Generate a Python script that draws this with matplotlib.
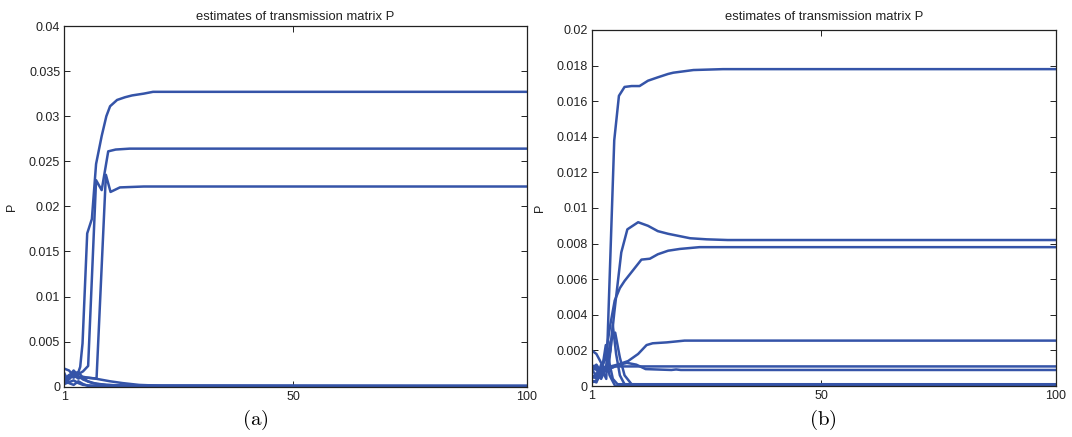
import numpy as np
import matplotlib.pyplot as plt

plt.rcParams['font.family'] = ['Liberation Sans', 'DejaVu Sans']
plt.rcParams['mathtext.fontset'] = 'cm'

BLUE = '#3554a8'
TITLE = 'estimates of transmission matrix P'

# ---- panel (a): values (iteration, P) ----
a1_x = [1, 2, 3, 4, 4.4, 4.9, 5.9, 6.9, 7.8, 9, 10, 10.8, 12.3, 14, 15.5, 18, 20, 100]
a1_y = [0.0009, 0.0011, 0.0015, 0.0016, 0.0022, 0.0048, 0.0170, 0.0186, 0.0247, 0.0278, 0.0300,
        0.0311, 0.0318, 0.0321, 0.0323, 0.0325, 0.0327, 0.0327]
a2_x = [1, 2, 3, 4, 5, 6.1, 7.8, 9.0, 10.4, 12, 15, 100]
a2_y = [0.0008, 0.0013, 0.0010, 0.0014, 0.0017, 0.0023, 0.0229, 0.0218, 0.0261, 0.0263, 0.0264, 0.0264]
a3_x = [1, 2, 3, 4, 5, 6, 7.9, 9.9, 10.9, 12.9, 18, 100]
a3_y = [0.0004, 0.0009, 0.0013, 0.0009, 0.0011, 0.0010, 0.0009, 0.0235, 0.0216, 0.0221, 0.0222, 0.0222]
a4_x = [1, 2, 3, 4, 5, 6, 8, 10, 15, 100]
a4_y = [0.0020, 0.0018, 0.0012, 0.0016, 0.0010, 0.0006, 0.0003, 0.0002, 0.0001, 0.0001]
a5_x = [1, 2, 3, 4, 5, 7, 10, 14, 100]
a5_y = [0.0006, 0.0012, 0.0018, 0.0012, 0.0008, 0.0004, 0.0002, 0.0001, 0.00005]
a6_x = [1, 2, 3, 4, 6, 7.6, 10.8, 13.5, 17, 22, 100]
a6_y = [0.0012, 0.0008, 0.0014, 0.0010, 0.0010, 0.0009, 0.0006, 0.0004, 0.0002, 0.0001, 0.0001]
a7_x = [1, 2, 3, 4, 5, 7, 100]
a7_y = [0.0003, 0.0005, 0.0007, 0.0004, 0.0002, 0.0001, 0.00003]
a8_x = [1, 2, 3, 4, 5, 6, 100]
a8_y = [0.0015, 0.0004, 0.0002, 0.0006, 0.0003, 0.0001, 0.0]

# ---- panel (b) ----
b1_x = [1, 2, 3, 4.1, 5.8, 6.8, 8.0, 9.5, 11.2, 13, 15.1, 17.3, 18.4, 22.7, 29, 100]
b1_y = [0.0009, 0.0006, 0.0010, 0.0004, 0.0138, 0.0163, 0.0168, 0.01685, 0.01685, 0.01715,
        0.01734, 0.01753, 0.0176, 0.01775, 0.0178, 0.0178]
b2_x = [1, 2, 3, 4.5, 5.8, 7.3, 8.6, 10.9, 13, 15.1, 17.3, 22, 25.5, 30, 100]
b2_y = [0.0006, 0.0004, 0.0012, 0.0008, 0.0041, 0.0075, 0.0088, 0.0092, 0.0090, 0.0087,
        0.00855, 0.0083, 0.00824, 0.0082, 0.0082]
b3_x = [1, 2, 3, 4, 5, 5.9, 7, 8, 9.8, 11.6, 13.4, 15.1, 17.3, 19.8, 24, 100]
b3_y = [0.0004, 0.0007, 0.0009, 0.0018, 0.0035, 0.0048, 0.0055, 0.0059, 0.0065, 0.0071,
        0.00715, 0.0074, 0.0076, 0.0077, 0.0078, 0.0078]
b4_x = [1, 2, 3, 4, 5, 6.5, 8.75, 10.9, 12.7, 14, 17, 20.8, 100]
b4_y = [0.0002, 0.0003, 0.0006, 0.0009, 0.0011, 0.0012, 0.0014, 0.0018, 0.0023, 0.0024,
        0.00245, 0.00255, 0.00255]
b5_x = [1, 2, 3, 4, 5, 6, 100]
b5_y = [0.0010, 0.0012, 0.0008, 0.0011, 0.0010, 0.0011, 0.0011]
b6_x = [1, 2, 3, 5, 7, 8.5, 10.5, 12.5, 18, 19, 20, 100]
b6_y = [0.0006, 0.0005, 0.0008, 0.0010, 0.0012, 0.0013, 0.0012, 0.00095, 0.0009, 0.00093,
        0.0009, 0.0009]
b7_x = [1, 2, 3, 4, 5, 5.5, 6.2, 7, 8, 100]
b7_y = [0.0020, 0.0018, 0.0013, 0.0009, 0.0020, 0.0034, 0.0018, 0.0006, 0.0001, 0.00005]
b8_x = [1, 2, 3, 4, 4.6, 5.5, 6.5, 100]
b8_y = [0.0012, 0.0009, 0.0006, 0.0023, 0.0015, 0.0004, 0.0001, 0.00005]
b9_x = [1, 2, 3, 4, 5, 6, 7, 8, 9.5, 100]
b9_y = [0.0008, 0.0011, 0.0004, 0.0010, 0.0025, 0.0030, 0.0016, 0.0006, 0.0001, 0.0001]
b10_x = [1, 2, 3, 4, 4.8, 6, 100]
b10_y = [0.0003, 0.0002, 0.0009, 0.0017, 0.0006, 0.0, 0.0]

a_curves = [(a1_x, a1_y), (a2_x, a2_y), (a3_x, a3_y), (a4_x, a4_y),
            (a5_x, a5_y), (a6_x, a6_y), (a7_x, a7_y), (a8_x, a8_y)]
b_curves = [(b1_x, b1_y), (b2_x, b2_y), (b3_x, b3_y), (b4_x, b4_y), (b5_x, b5_y),
            (b6_x, b6_y), (b7_x, b7_y), (b8_x, b8_y), (b9_x, b9_y), (b10_x, b10_y)]

x_ticks = [1, 50, 100]
a_yticks = [0, 0.005, 0.01, 0.015, 0.02, 0.025, 0.03, 0.035, 0.04]
a_ylabels = ['0', '0.005', '0.01', '0.015', '0.02', '0.025', '0.03', '0.035', '0.04']
b_yticks = [0, 0.002, 0.004, 0.006, 0.008, 0.01, 0.012, 0.014, 0.016, 0.018, 0.02]
b_ylabels = ['0', '0.002', '0.004', '0.006', '0.008', '0.01', '0.012', '0.014',
             '0.016', '0.018', '0.02']


def draw_panel(ax, curves, yticks, ylabels, title_pad, lab_x):
    for cx, cy in curves:
        ax.plot(cx, cy, color=BLUE, lw=1.8, solid_joinstyle='round')
    ax.set_xlim(1, 100)
    ax.set_ylim(yticks[0], yticks[-1])
    ax.set_xticks(x_ticks)
    ax.set_xticklabels([str(t) for t in x_ticks])
    ax.set_yticks(yticks)
    ax.set_yticklabels(ylabels)
    ax.tick_params(direction='in', top=True, right=True, length=4, width=0.7,
                   labelsize=9, colors='#222222', pad=3)
    for s in ax.spines.values():
        s.set_linewidth(0.9)
        s.set_color('#222222')
    ax.set_title(TITLE, fontsize=9.4, pad=title_pad, color='#222222')
    ax.set_ylabel('P', fontsize=9, color='#222222')
    ax.yaxis.set_label_coords(lab_x, 0.5)


fig = plt.figure(figsize=(10.72, 4.37), dpi=100)
ax1 = fig.add_axes([0.060, 0.1151, 0.4313, 0.8254])
ax2 = fig.add_axes([0.552, 0.1167, 0.4328, 0.8147])

draw_panel(ax1, a_curves, a_yticks, a_ylabels, 4, -0.100)
draw_panel(ax2, b_curves, b_yticks, b_ylabels, 7, -0.098)

fig.text(0.238, 0.039, r'$\mathrm{(a)}$', fontsize=15, ha='center', va='center')
fig.text(0.768, 0.039, r'$\mathrm{(b)}$', fontsize=15, ha='center', va='center')

fig.savefig('out.png', dpi=100)
plt.close(fig)
